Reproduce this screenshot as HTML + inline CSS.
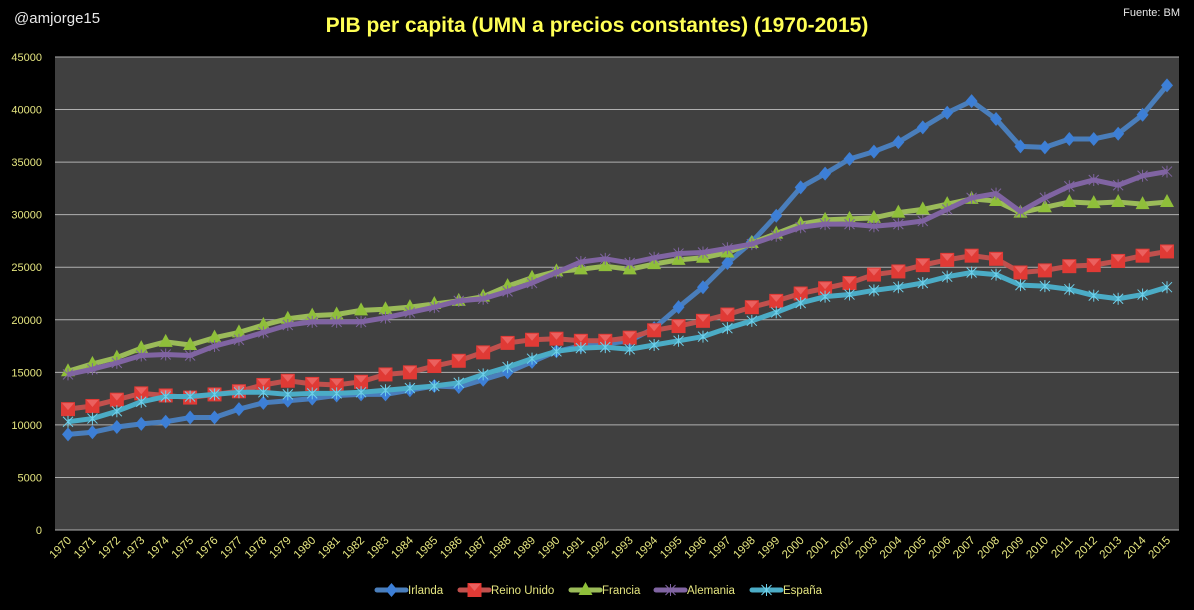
<!DOCTYPE html>
<html><head><meta charset="utf-8"><style>
html,body{margin:0;padding:0;background:#000;}
svg{display:block;font-family:"Liberation Sans",sans-serif;}
</style></head><body>
<svg id="chart" width="1194" height="610" viewBox="0 0 1194 610">
<rect x="0" y="0" width="1194" height="610" fill="#000"/>
<text x="14" y="23" fill="#e8e8e8" font-size="15">@amjorge15</text>
<text x="597" y="32" fill="#ffff55" font-size="21" font-weight="bold" text-anchor="middle">PIB per capita (UMN a precios constantes) (1970-2015)</text>
<text x="1180" y="16" fill="#e8e8e8" font-size="11" text-anchor="end">Fuente: BM</text>
<rect x="55" y="57" width="1124" height="473" fill="#404040"/>
<g id="grid"></g>
<g id="yaxis"></g>
<g id="xaxis"></g>
<g id="series"></g>
<g id="legend"></g>
</svg>
<script>
const years = [];
for (let y = 1970; y <= 2015; y++) years.push(y);
const yTicks = [0,5000,10000,15000,20000,25000,30000,35000,40000,45000];
const seriesNames = ["Irlanda","Reino Unido","Francia","Alemania","España"];
const irlanda = [9100,9300,9800,10100,10300,10700,10700,11500,12100,12300,12500,12800,12900,12900,13300,13700,13600,14300,15000,16000,17000,17500,17700,18000,19200,21200,23100,25400,27400,29900,32600,33900,35300,36000,36900,38300,39700,40800,39100,36500,36400,37200,37200,37700,39500,42300];
const reinoUnido = [11500,11800,12400,13000,12800,12600,12900,13200,13800,14200,13900,13800,14100,14800,15000,15600,16100,16900,17800,18100,18200,18000,18000,18300,19000,19400,19900,20500,21200,21800,22500,23000,23500,24300,24600,25200,25700,26100,25800,24500,24700,25100,25200,25600,26100,26500];
const francia = [15100,15800,16400,17300,17900,17600,18300,18800,19500,20100,20400,20500,20900,21000,21200,21500,21800,22200,23200,24000,24600,24800,25100,24800,25300,25700,25900,26400,27300,28200,29100,29500,29600,29700,30200,30500,31000,31500,31300,30200,30700,31200,31100,31200,31000,31200];
const alemania = [14800,15300,15900,16600,16700,16600,17500,18100,18800,19500,19800,19800,19800,20200,20700,21200,21800,22000,22700,23500,24500,25500,25800,25400,25900,26300,26400,26800,27200,28000,28800,29100,29100,28900,29100,29400,30500,31600,32000,30300,31600,32700,33300,32800,33700,34100];
const espana = [10300,10600,11300,12200,12700,12700,12900,13100,13100,12900,13000,13000,13100,13300,13500,13700,14000,14800,15500,16300,17000,17300,17400,17200,17600,18000,18400,19200,19900,20700,21600,22200,22400,22800,23100,23500,24100,24500,24300,23300,23200,22900,22300,22000,22400,23100];

const NS = "http://www.w3.org/2000/svg";
const X0 = 68, X1 = 1167, Y0 = 530, Y1 = 57, VMAX = 45000;
function xPos(i){ return X0 + (X1 - X0) * i / (years.length - 1); }
function yPos(v){ return Y0 - (Y0 - Y1) * v / VMAX; }
function mk(tag, attrs, parent){ const e = document.createElementNS(NS, tag); for (const k in attrs) e.setAttribute(k, attrs[k]); parent.appendChild(e); return e; }

const grid = document.getElementById('grid'), yaxis = document.getElementById('yaxis'), xaxis = document.getElementById('xaxis');
yTicks.forEach(t => {
  const l = mk('line', {x1:55, x2:1179, y1:yPos(t), y2:yPos(t), stroke:'#b0b0b0', 'stroke-width':1}, grid);
  
  
  const tx = mk('text', {x:42, y:yPos(t)+4, fill:'#e6e680', 'font-size':11, 'text-anchor':'end'}, yaxis);
  tx.textContent = t;
  
  
});
years.forEach((yr, i) => {
  const x = xPos(i) + 4, y = 541;
  const tx = mk('text', {x:x, y:y, fill:'#e6e680', 'font-size':11.5, 'text-anchor':'end', transform:`rotate(-45 ${x} ${y})`}, xaxis);
  tx.textContent = yr;
  
  
});

const colors = ['#4a7ebb','#c0504d','#9bbb59','#8064a2','#4bacc6'];
const markerCols = ['#3d7fd6','#e03a35','#8fbf3a','#8064a2','#6fd0ea'];
const allData = [irlanda, reinoUnido, francia, alemania, espana];
const sg = document.getElementById('series');
function marker(type, x, y, c, parent){
  let m;
  if (type === 0) m = mk('polygon', {points:`${x},${y-7} ${x+6},${y} ${x},${y+7} ${x-6},${y}`, fill:c}, parent);
  else if (type === 1) { m = mk('g', {}, parent); mk('rect', {x:x-7, y:y-7, width:14, height:14, fill:c}, m); mk('polygon', {points:`${x-6},${y-6} ${x+6},${y-6} ${x},${y+1}`, fill:'#f07070', opacity:0.7}, m); }
  else if (type === 2) m = mk('polygon', {points:`${x},${y-8} ${x+7},${y+5} ${x-7},${y+5}`, fill:c}, parent);
  else { m = mk('path', {d:`M${x-5},${y-5}L${x+5},${y+5}M${x+5},${y-5}L${x-5},${y+5}M${x},${y-6}L${x},${y+6}`, stroke:c, 'stroke-width':1, fill:'none'}, parent); }
  return m;
}
allData.forEach((d, s) => {
  const g = mk('g', {}, sg);
  
  
  const pts = d.map((v, i) => `${xPos(i)},${yPos(v)}`).join(' ');
  const pl = mk('polyline', {points:pts, fill:'none', stroke:colors[s], 'stroke-width':5, 'stroke-linejoin':'round'}, g);
  
  
  d.forEach((v, i) => {
    const m = marker(s, xPos(i), yPos(v), markerCols[s], g);
    
    
  });
});

const lg = document.getElementById('legend');
const legX = [377, 460, 571, 656, 752];
seriesNames.forEach((n, s) => {
  const g = mk('g', {}, lg);
  
  
  mk('line', {x1:legX[s], x2:legX[s]+29, y1:590, y2:590, stroke:colors[s], 'stroke-width':5, 'stroke-linecap':'round'}, g);
  marker(s, legX[s]+14.5, 590, markerCols[s], g);
  const t = mk('text', {x:legX[s]+31, y:594, fill:'#e6e680', 'font-size':11.5}, g);
  t.textContent = n;
});
</script>
</body></html>
